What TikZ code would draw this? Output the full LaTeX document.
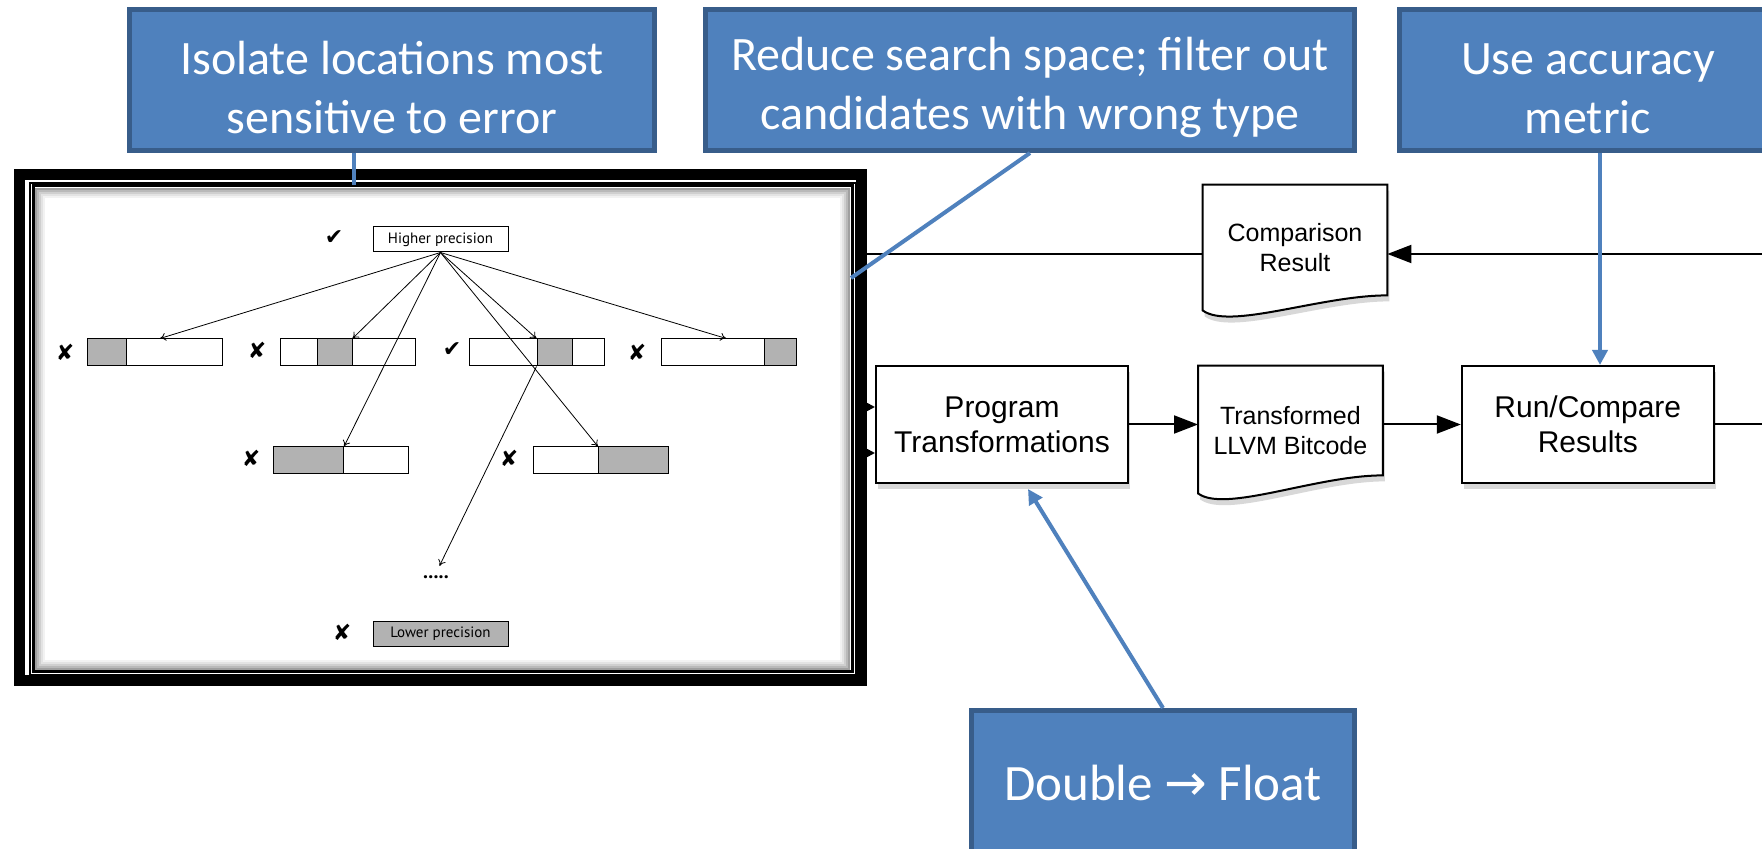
\documentclass[tikz,border=0pt]{standalone}
\usepackage{fontspec}
\setmainfont{Liberation Sans}
\newfontfamily\callfont{Carlito}
\newfontfamily\handfont{PT Sans}
\newfontfamily\symfont{DejaVu Sans}
\usetikzlibrary{positioning,calc,shadows,backgrounds,arrows.meta}

\definecolor{callblue}{RGB}{79,129,189}
\definecolor{calledge}{RGB}{56,93,138}
\definecolor{bargray}{RGB}{178,178,178}

% document symbol with a wavy bottom, drawn round a node
\newcommand{\docshape}[3]{%
  \draw[docline] (#1.north west) -- (#1.north east) -- ($(#1.south east)+(0,#3)$)
    .. controls ($(#1.south east)+(-67,#3)$) and ($(#1.south west)+(27,#2+20)$) .. ($(#1.south west)+(0,#2)$) -- cycle;}
% pushes the first line of a text down a little
\newcommand{\lowerby}[1]{\rule{0pt}{#1}}

\begin{document}
\begin{tikzpicture}[x=0.5pt,y=-0.5pt,
  callout/.style={rectangle, fill=callblue, draw=calledge, line width=2.5pt, text=white, align=center, font=\callfont\fontsize{24}{29.5}\selectfont},
  callline/.style={draw=callblue, line width=2pt},
  procbox/.style={rectangle, draw=black, line width=1pt, fill=white, minimum width=126pt, minimum height=58.5pt, align=center, font=\fontsize{15}{17.5}\selectfont, drop shadow={shadow xshift=1pt, shadow yshift=-3pt, opacity=.3}},
  docnode/.style={rectangle, minimum width=92pt, align=center, font=\fontsize{12.5}{15}\selectfont},
  docline/.style={draw=black, line width=1pt, fill=white, drop shadow={shadow xshift=1pt, shadow yshift=-3pt, opacity=.3}},
  flow/.style={line width=1pt, -{Triangle[length=12pt,width=9pt]}},
  smallflow/.style={line width=1pt, -{Triangle[length=5pt,width=5pt]}},
  precbox/.style={rectangle, draw=black, line width=0.5pt, minimum width=67.5pt, minimum height=12.5pt, inner sep=0pt, font=\handfont\fontsize{7.5}{9}\selectfont},
  candbar/.style={rectangle, draw=black, line width=0.5pt, fill=white, minimum width=67.5pt, minimum height=13.5pt, inner sep=0pt},
  graypart/.style={rectangle, draw=black, line width=0.5pt, fill=bargray, minimum height=13.5pt, inner sep=0pt},
  okmark/.style={font=\symfont\fontsize{11}{11}\selectfont, inner sep=0pt},
  badmark/.style={font=\symfont\fontsize{11}{11}\selectfont, inner sep=0pt},
  thinarrow/.style={line width=0.4pt, -{To[length=3pt,width=4pt]}}]

\useasboundingbox (0,0) rectangle (1762,849);

% callouts
\node[callout, minimum width=262.5pt, minimum height=70.5pt] (isolate) at (392,80) {\lowerby{24pt}Isolate locations most\\sensitive to error};
\node[callout, minimum width=324.5pt, minimum height=70.5pt] (reduce) at (1030,80) {\lowerby{24pt}Reduce search space; filter out\\candidates with wrong type};
\node[callout, minimum width=188.5pt, minimum height=70.5pt] (accuracy) at (1588,80) {\lowerby{24pt}Use accuracy\\metric};
\node[callout, minimum width=191.5pt, minimum height=72.5pt, font=\callfont\fontsize{25.5}{30}\selectfont] (dblfloat) at (1163,783) {Double {\symfont →} Float};

% framed picture of the search
\node[draw=black, line width=5.5pt, minimum width=421pt, minimum height=253pt, inner sep=0pt] (frame) at (440.5,427.5) {};
\draw[line width=0.75pt] (30,183) rectangle (856,675);
\draw[line width=1.5pt] (33,186) rectangle (852,672);
\draw[gray!75, line width=1pt] (36,189) rectangle (849,669);
\draw[gray!55, line width=1pt] (38,191) rectangle (847,667);
\draw[gray!38, line width=1pt] (40,193) rectangle (845,665);
\draw[gray!22, line width=1pt] (42,195) rectangle (843,663);
\draw[gray!10, line width=1pt] (44,197) rectangle (841,661);

\node[precbox] (higher) at (440.5,239.5) {Higher precision};
\node[precbox, fill=bargray] (lower) at (440.5,634) {Lower precision};
\node[okmark] (okHigher) at (334,238) {✔};
\node[badmark] (badLower) at (342,632) {✘};

\node[candbar] (candA) at (154.5,352.5) {};
\node[graypart, minimum width=19.5pt, anchor=west] (grayA) at (candA.west) {};
\node[candbar] (candB) at (348,352.5) {};
\node[graypart, minimum width=17.5pt] (grayB) at (334.5,352.5) {};
\node[candbar] (candC) at (537,352.5) {};
\node[graypart, minimum width=17.5pt] (grayC) at (554.5,352.5) {};
\node[candbar] (candD) at (729,352.5) {};
\node[graypart, minimum width=16pt, anchor=east] (grayD) at (candD.east) {};
\node[candbar] (candE) at (341,460.5) {};
\node[graypart, minimum width=35pt, anchor=west] (grayE) at (candE.west) {};
\node[candbar] (candF) at (601,460.5) {};
\node[graypart, minimum width=35pt, anchor=east] (grayF) at (candF.east) {};

\node[badmark] (badA) at (65,352) {✘};
\node[badmark] (badB) at (257,350) {✘};
\node[okmark] (okC) at (452,350) {✔};
\node[badmark] (badD) at (637,352) {✘};
\node[badmark] (badE) at (251,458) {✘};
\node[badmark] (badF) at (509,458) {✘};
\node[font=\handfont\bfseries\fontsize{10}{10}\selectfont, inner sep=1pt] (dots) at (436,577) {.....};

\draw[thinarrow] (higher.south) -- ($(candA.north west)!.54!(candA.north east)$);
\draw[thinarrow] (higher.south) -- (grayB.north east);
\draw[thinarrow] (higher.south) -- (grayC.north west);
\draw[thinarrow] (higher.south) -- ($(candD.north west)!.48!(candD.north east)$);
\draw[thinarrow] (higher.south) -- (grayE.north east);
\draw[thinarrow] (higher.south) -- (grayF.north west);
\draw[thinarrow, shorten >=4pt] (grayC.south west) -- (dots.north);

% tool flow
\node[procbox] (progtrans) at (1002,424.5) {Program\\Transformations};
\node[docnode, minimum height=58.5pt] (llvmbc) [right=34.5pt of progtrans] {\lowerby{15pt}Transformed\\LLVM Bitcode};
\node[procbox] (runcmp) [right=39pt of llvmbc] {Run/Compare\\Results};
\node[docnode, minimum height=62.5pt] (cmpres) at (1295,247.5) {Comparison\\Result};

\begin{scope}[on background layer]
  \fill[white] (0,0) rectangle (1762,849);
  \docshape{cmpres}{0}{-15}
  \docshape{llvmbc}{10}{-8}
\end{scope}

\coordinate (outR) at (1762,424.5);
\coordinate (inR) at (1762,254);
\coordinate (feedA) at (860,407);
\coordinate (feedB) at (860,453);

\draw[flow] (progtrans.east) -- (llvmbc.west);
\draw[flow] (llvmbc.east) -- (runcmp.west);
\draw[line width=1pt] (runcmp.east) -- (outR);
\draw[flow] (inR) -- (inR -| cmpres.east);
\draw[line width=1pt] (inR -| cmpres.west) -- (inR -| frame.east);
\draw[smallflow] (feedA) -- (feedA -| progtrans.west);
\draw[smallflow] (feedB) -- (feedB -| progtrans.west);

% callout pointers
\coordinate (isoEnd) at (354,185);
\coordinate (redEnd) at (851,278);
\coordinate (accX) at (1600,0);
\coordinate (dblEnd) at (1028,489);
\draw[callline] (isoEnd |- isolate.south) -- (isoEnd);
\draw[callline] (reduce.south) -- (redEnd);
\draw[callline, -{Triangle[length=7.5pt,width=7.5pt]}] (accX |- accuracy.south) -- (accX |- runcmp.north);
\draw[callline, -{Triangle[length=7.5pt,width=7.5pt]}] (dblfloat.north) -- (dblEnd);
\end{tikzpicture}
\end{document}
